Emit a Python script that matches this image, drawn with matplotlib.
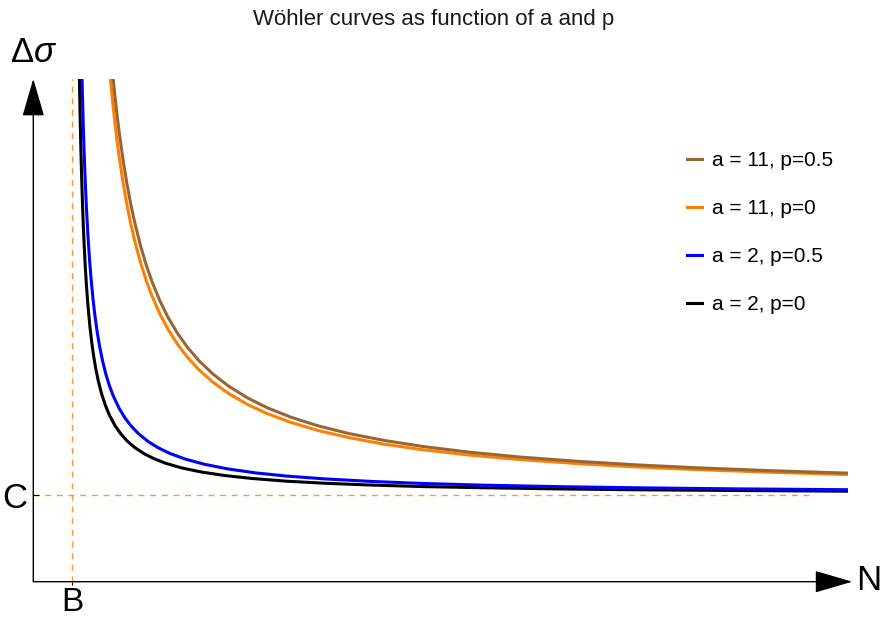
import matplotlib
matplotlib.use("Agg")
import matplotlib.pyplot as plt

plt.rcParams["font.family"] = ["Liberation Sans", "DejaVu Sans"]
plt.rcParams["mathtext.fontset"] = "custom"
plt.rcParams["mathtext.rm"] = "Liberation Sans"
plt.rcParams["mathtext.it"] = "Liberation Sans:italic"
plt.rcParams["lines.scale_dashes"] = False

# Reference levels on the axes
B = 1.0
C = 1.0

# a = 2, p = 0
n_black = [1.183, 1.19, 1.2, 1.22, 1.24, 1.26, 1.28, 1.3, 1.33, 1.36, 1.4, 1.45, 1.5,
           1.55, 1.6, 1.67, 1.75, 1.85, 1.95, 2.1, 2.25, 2.4, 2.6, 2.85, 3.1, 3.4,
           3.8, 4.3, 4.9, 5.6, 6.5, 7.5, 8.7, 10.0, 11.5, 13.5, 15.5, 18.0, 20.85]
s_black = [5.792, 5.616, 5.385, 4.986, 4.654, 4.373, 4.132, 3.923, 3.658, 3.436, 3.193,
           2.949, 2.754, 2.595, 2.462, 2.309, 2.169, 2.032, 1.923, 1.797, 1.702, 1.626,
           1.548, 1.474, 1.418, 1.365, 1.313, 1.266, 1.225, 1.191, 1.159, 1.135, 1.114,
           1.097, 1.084, 1.070, 1.060, 1.052, 1.044]

# a = 2, p = 0.5
n_blue = [1.25, 1.26, 1.28, 1.3, 1.33, 1.36, 1.4, 1.44, 1.48, 1.53, 1.58, 1.64, 1.7,
          1.78, 1.86, 1.95, 2.05, 2.2, 2.35, 2.5, 2.7, 2.95, 3.2, 3.5, 3.9, 4.4, 5.0,
          5.7, 6.5, 7.5, 8.7, 10.0, 11.5, 13.5, 15.5, 18.0, 20.85]
s_blue = [5.800, 5.615, 5.286, 5.000, 4.636, 4.333, 4.000, 3.727, 3.500, 3.264, 3.069,
          2.875, 2.714, 2.538, 2.395, 2.263, 2.143, 2.000, 1.889, 1.800, 1.706, 1.615,
          1.545, 1.480, 1.414, 1.353, 1.300, 1.255, 1.218, 1.185, 1.156, 1.133, 1.114,
          1.096, 1.083, 1.071, 1.061]

# a = 11, p = 0
n_orange = [1.98, 2.0, 2.05, 2.1, 2.15, 2.2, 2.3, 2.4, 2.5, 2.6, 2.75, 2.9, 3.05, 3.25,
            3.45, 3.7, 3.95, 4.25, 4.6, 5.0, 5.5, 6.0, 6.6, 7.3, 8.1, 9.0, 10.0, 11.2,
            12.5, 14.0, 15.5, 17.0, 19.0, 20.85]
s_orange = [5.786, 5.690, 5.467, 5.264, 5.078, 4.908, 4.608, 4.350, 4.127, 3.931, 3.680,
            3.468, 3.288, 3.084, 2.914, 2.737, 2.590, 2.443, 2.303, 2.173, 2.042, 1.938,
            1.838, 1.744, 1.661, 1.586, 1.521, 1.460, 1.408, 1.361, 1.323, 1.293, 1.261,
            1.236]

# a = 11, p = 0.5
n_brown = [2.05, 2.1, 2.15, 2.2, 2.3, 2.4, 2.5, 2.6, 2.75, 2.9, 3.05, 3.25, 3.45, 3.7,
           3.95, 4.25, 4.6, 5.0, 5.5, 6.0, 6.6, 7.3, 8.1, 9.0, 10.0, 11.2, 12.5, 14.0,
           15.5, 17.0, 19.0, 20.85]
s_brown = [5.790, 5.573, 5.374, 5.192, 4.869, 4.593, 4.353, 4.144, 3.874, 3.647, 3.454,
           3.236, 3.053, 2.863, 2.705, 2.548, 2.398, 2.258, 2.118, 2.006, 1.898, 1.798,
           1.708, 1.629, 1.559, 1.493, 1.437, 1.387, 1.347, 1.314, 1.279, 1.253]

labels = ["a = 11, p=0.5", "a = 11, p=0", "a = 2, p=0.5", "a = 2, p=0"]

W, H = 882, 618
fig = plt.figure(figsize=(W / 100, H / 100), dpi=100)
x0, y0 = 33.3, 581.7
px_n, px_s = 39.0, 86.7
n_max, s_max = 21.0, 5.8
ax = fig.add_axes([x0 / W, (H - y0) / H, n_max * px_n / W, s_max * px_s / H])
ax.set_xlim(0, n_max)
ax.set_ylim(0, s_max)
for sp in ax.spines.values():
    sp.set_visible(False)

dash_col = "#FF9435"
ax.plot([0, 20.0], [C, C], color=dash_col, lw=1.0, dashes=(4.3, 4.1), zorder=1)
ax.plot([B, B], [0, s_max], color=dash_col, lw=1.0, dashes=(4.3, 4.1), zorder=1)

lw = 2.2
l_black, = ax.plot(n_black, s_black, color="black", lw=lw, zorder=3)
l_blue, = ax.plot(n_blue, s_blue, color="#0000FF", lw=lw, zorder=3)
l_orange, = ax.plot(n_orange, s_orange, color="#FF8000", lw=lw, zorder=3)
l_brown, = ax.plot(n_brown, s_brown, color="#996633", lw=lw, zorder=3)

# Axes with arrow heads
arrow = dict(arrowstyle="-|>,head_length=1.2,head_width=0.35", mutation_scale=20,
             lw=1.0, color="black", shrinkA=0, shrinkB=0)
ax.annotate("", xy=(0, 1), xytext=(0, 0), xycoords="axes fraction", arrowprops=arrow)
ax.annotate("", xy=(1, 0), xytext=(0, 0), xycoords="axes fraction", arrowprops=arrow)

ax.set_xticks([B])
ax.set_xticklabels(["B"], fontsize=24)
ax.set_yticks([C])
ax.set_yticklabels(["C"], fontsize=25)
ax.tick_params(axis="x", direction="out", length=2.5, width=0.8, pad=1.5)
ax.tick_params(axis="y", direction="in", length=4.5, width=0.8, pad=4)

ax.text(0, (y0 - 53) / px_s, r"$\Delta\mathit{\sigma}$", fontsize=25,
        ha="center", va="center", clip_on=False)
ax.text((869 - x0) / px_n, (y0 - 580) / px_s, "N", fontsize=25,
        ha="center", va="center", clip_on=False)

fig.text(434 / W, 1 - 20 / H, "Wöhler curves as function of a and p",
         fontsize=16, ha="center", va="center", color="#1a1a1a")

ax.legend([l_brown, l_orange, l_blue, l_black], labels, loc="upper left",
          bbox_to_anchor=(687 / W, 1 - 151 / H), bbox_transform=fig.transFigure,
          frameon=False, fontsize=15, handlelength=0.72, handletextpad=0.48,
          labelspacing=1.39, borderpad=0, borderaxespad=0)

fig.savefig("out.png", dpi=100)
